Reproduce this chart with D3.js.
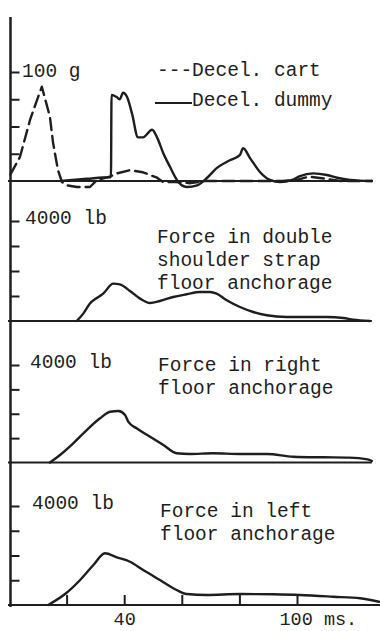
<!DOCTYPE html>
<html><head><meta charset="utf-8">
<script src="https://cdn.jsdelivr.net/npm/d3@7"></script>
<style>
html,body{margin:0;padding:0;background:#fff;}
svg{display:block;}
text{font-family:"Liberation Mono","Courier New",monospace;font-size:19.5px;fill:#1e1e1e;}
</style></head><body>
<svg id="chart" width="380" height="631"></svg>
<script>
// ---------- data ----------
const xTicks = [20, 40, 60, 80, 100];
const xTickLabels = ["", "40", "", "", "100 ms."];
const gTicks = [25, 50, 75, 100];
const lbTicks = [1000, 2000, 3000, 4000];

// Panel 1: deceleration (g)
const cartTime = [0.5, 3.8, 7.3, 9.7, 11.4, 14.2, 15.3, 17, 18.4, 20.1, 23.6, 28.1, 30.6, 35, 37.5, 42, 46.5, 51.4, 53.5, 58, 63, 68, 80, 95, 100, 104, 110, 115, 126];
const cartG    = [6, 22, 56, 74, 86.5, 59, 35, 10, -1, -4, -5.5, -5.5, 1, 4, 7, 10, 8, 3, -1, -1, -2, 0, 0, 0, 1, 4, 2, 0, 0];

const dummyTime = [18, 27, 35, 35.4, 35.6, 37.4, 38.5, 39.6, 41, 42.7, 44.8, 46.5, 49.7, 51.4, 53.5, 55.9, 58.3, 60, 61.8, 65.3, 68.8, 72.2, 76.7, 80.2, 81.3, 83.7, 87.2, 90.6, 94.1, 98.3, 101, 105.6, 110.4, 113.9, 118.4, 126];
const dummyG    = [0, 2, 3.5, 3.5, 79, 77, 75, 81, 77, 62, 40, 40, 47, 40, 26, 13, 1, -4, -5.5, -4, 3, 12, 19, 24, 30, 21, 8, 1, -1, 1, 4.5, 7, 5.5, 3, 1, 0];

// Panel 2: force in double shoulder strap floor anchorage (lb)
const strapTime = [23.5, 25.8, 28.1, 30.5, 32.7, 36.2, 38.5, 42, 45.5, 49, 52.4, 57, 61.7, 66.3, 69.8, 72.1, 75.6, 80.2, 84.8, 89.5, 96.4, 103.4, 110.3, 116.1, 119.5, 125.3];
const strapLb   = [0, 296, 700, 920, 1096, 1496, 1468, 1200, 896, 720, 800, 960, 1068, 1160, 1160, 1096, 828, 560, 360, 228, 160, 160, 160, 120, 56, 0];

// Panel 3: force in right floor anchorage (lb)
const rightTime = [14.2, 17.7, 22.3, 27, 31.6, 35.1, 38, 40.3, 41.4, 44.3, 49, 53.6, 58.2, 62.8, 70.9, 80.2, 89.5, 98.7, 109.1, 118, 124.5, 126];
const rightLb   = [0, 308, 787, 1333, 1812, 2083, 2112, 1948, 1673, 1402, 1058, 718, 377, 349, 377, 349, 349, 238, 213, 200, 131, 60];

// Panel 4: force in left floor anchorage (lb)
const leftTime = [13.6, 19.8, 24.7, 29.3, 33.3, 37.4, 42, 46.6, 52.4, 58.2, 61.7, 68.6, 80.2, 91.8, 101, 112.6, 121.9, 128.5];
const leftLb   = [0, 473, 1010, 1616, 2089, 1927, 1749, 1414, 1010, 606, 444, 404, 444, 432, 404, 335, 271, 130];

// ---------- layout ----------
const ink = "#1e1e1e";
const svg = d3.select("#chart");
const axisX = 10.5;
const x = d3.scaleLinear().domain([0, 100]).range([9, 297]);

const panels = [
  { max: 100,  base: 181,   top: 72,  ticks: gTicks,  endT: 126,
    unit: "100 g", unitX: 22, unitY: 77, title: [], tx: 157, ty: 0 },
  { max: 4000, base: 321,   top: 221, ticks: lbTicks, endT: 126,
    unit: "4000 lb", unitX: 25, unitY: 224,
    title: ["Force in double", "shoulder strap", "floor anchorage"], tx: 157, ty: 243 },
  { max: 4000, base: 462.5, top: 365, ticks: lbTicks, endT: 126,
    unit: "4000 lb", unitX: 30, unitY: 368,
    title: ["Force in right", "floor anchorage"], tx: 158, ty: 371 },
  { max: 4000, base: 605,   top: 506, ticks: lbTicks, endT: 129,
    unit: "4000 lb", unitX: 32, unitY: 509,
    title: ["Force in left", "floor anchorage"], tx: 160, ty: 517 }
];
panels.forEach(p => { p.y = d3.scaleLinear().domain([0, p.max]).range([p.base, p.top]); });

const series = [
  { panel: 0, t: cartTime,  v: cartG,   dash: "12,6", curve: d3.curveLinear },
  { panel: 0, t: dummyTime, v: dummyG,  dash: null,   curve: d3.curveMonotoneX },
  { panel: 1, t: strapTime, v: strapLb, dash: null,   curve: d3.curveMonotoneX },
  { panel: 2, t: rightTime, v: rightLb, dash: null,   curve: d3.curveMonotoneX },
  { panel: 3, t: leftTime,  v: leftLb,  dash: null,   curve: d3.curveMonotoneX }
];

// vertical axis line
svg.append("line").attr("x1", axisX).attr("x2", axisX).attr("y1", 17).attr("y2", 607)
  .attr("stroke", ink).attr("stroke-width", 2.5);

panels.forEach(p => {
  // baseline
  svg.append("line").attr("x1", 8).attr("x2", x(p.endT))
    .attr("y1", p.base).attr("y2", p.base)
    .attr("stroke", ink).attr("stroke-width", 2);
  // y ticks
  const ax = svg.append("g").attr("transform", `translate(${axisX},0)`)
    .call(d3.axisRight(p.y).tickValues(p.ticks).tickSize(9).tickFormat(""));
  ax.select(".domain").remove();
  ax.selectAll(".tick line").attr("stroke", ink).attr("stroke-width", 2);
  // unit label
  svg.append("text").attr("x", p.unitX).attr("y", p.unitY).text(p.unit);
  // title
  p.title.forEach((s, i) => {
    svg.append("text").attr("x", p.tx).attr("y", p.ty + i * 23).text(s);
  });
});

// legend
svg.append("text").attr("x", 157).attr("y", 76).text("---Decel. cart");
svg.append("line").attr("x1", 155).attr("x2", 192).attr("y1", 103).attr("y2", 103)
  .attr("stroke", ink).attr("stroke-width", 2);
svg.append("text").attr("x", 192).attr("y", 106).text("Decel. dummy");

// curves
series.forEach(s => {
  const p = panels[s.panel];
  const pts = s.t.map((t, i) => [t, s.v[i]]);
  const line = d3.line().x(d => x(d[0])).y(d => p.y(d[1])).curve(s.curve);
  svg.append("path").attr("d", line(pts))
    .attr("fill", "none").attr("stroke", ink).attr("stroke-width", 2.4)
    .attr("stroke-linejoin", "round").attr("stroke-linecap", "round")
    .attr("stroke-dasharray", s.dash);
});

// bottom time axis (ticks point upward into the last panel)
const bx = svg.append("g").attr("transform", `translate(0,${panels[3].base})`)
  .call(d3.axisBottom(x).tickValues(xTicks).tickSize(-10).tickPadding(7)
    .tickFormat((d, i) => xTickLabels[i]));
bx.select(".domain").remove();
bx.selectAll(".tick line").attr("stroke", ink).attr("stroke-width", 2);
bx.selectAll(".tick text")
  .attr("font-family", null).attr("font-size", null).attr("fill", ink)
  .style("font-size", "18.5px")
  .filter(d => d === 100).attr("text-anchor", "start").attr("dx", -18);
</script>
</body></html>
